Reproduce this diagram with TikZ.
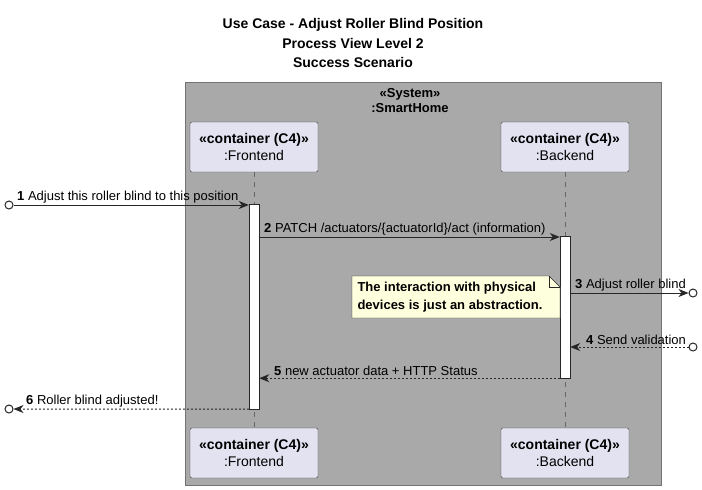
\documentclass[tikz,border=0pt]{standalone}
\usepackage{fontspec, xcolor}
\setmainfont{Liberation Sans}
\usetikzlibrary{arrows.meta, calc}

\definecolor{sysgray}{HTML}{A9A9A9}
\definecolor{partfill}{HTML}{E2E2F0}
\definecolor{notefill}{HTML}{FEFFDD}

\begin{document}
\begin{tikzpicture}[x=1pt, y=-1pt,
    part/.style={draw=black!75, fill=partfill, rounded corners=2pt, minimum width=128, minimum height=50, align=center, inner sep=2pt, font=\fontsize{14}{17}\selectfont},
    lifeline/.style={draw=black!60, dash pattern=on 5pt off 5pt},
    actbar/.style={draw=black!85, fill=white, minimum width=10, inner sep=0pt},
    msg/.style={draw=black!85, line width=1pt, -{Stealth[length=10pt, width=8pt, inset=3pt]}},
    reply/.style={msg, dash pattern=on 2pt off 2pt},
    endpt/.style={circle, draw=black!85, fill=white, minimum size=8, inner sep=0pt, line width=1pt},
    lbl/.style={anchor=south west, inner sep=1pt, font=\fontsize{13}{15}\selectfont}]
    \useasboundingbox (0,0) rectangle (702,490);
    % title
    \node[align=center, font=\bfseries\fontsize{14}{19.5}\selectfont] (title) at (353,43) {Use Case - Adjust Roller Blind Position\\Process View Level 2\\Success Scenario};
    % system box
    \draw [draw=black!55, fill=sysgray] (185,82) rectangle (661,485);
    \node[align=center, font=\fontsize{13}{15}\selectfont] (sys) at (410,101) {\textbf{«System»}\\\textbf{:SmartHome}};
    % participants
    \node[part] (fetop) at (254,147) {\textbf{«container (C4)»}\\:Frontend};
    \node[part] (betop) at (565,147) {\textbf{«container (C4)»}\\:Backend};
    \node[part] (febot) at (254,453) {\textbf{«container (C4)»}\\:Frontend};
    \node[part] (bebot) at (565,453) {\textbf{«container (C4)»}\\:Backend};
    \draw [lifeline] (fetop) -- (febot);
    \draw [lifeline] (betop) -- (bebot);
    % activations
    \node[actbar, minimum height=205] (feact) at (254,306.5) {};
    \node[actbar, minimum height=142] (beact) at (565,307) {};
    % note
    \draw [draw=black!85, fill=notefill] (352,276) -- (549,276) -- (560,287) -- (560,318) -- (352,318) -- cycle;
    \draw [draw=black!85] (549,276) -- (549,287) -- (560,287);
    \node[align=left, font=\bfseries\fontsize{13}{18}\selectfont] (note) at (450,297) {The interaction with physical\\devices is just an abstraction.};
    % messages
    \node[endpt] (in1) at (9,205) {};
    \draw [msg] (in1) -- (feact.west |- in1);
    \node[lbl] at (16,204) {\textbf{1} Adjust this roller blind to this position};
    \coordinate (m2) at (0,237);
    \draw [msg] (feact.east |- m2) -- (beact.west |- m2);
    \node[lbl] at (263,236) {\textbf{2} PATCH /actuators/\{actuatorId\}/act (information)};
    \node[endpt] (out3) at (693,293) {};
    \draw [msg] (beact.east |- out3) -- (out3);
    \node[lbl] at (574,292) {\textbf{3} Adjust roller blind};
    \node[endpt] (in4) at (693,347) {};
    \draw [reply] (in4) -- (beact.east |- in4);
    \node[lbl] at (585,346) {\textbf{4} Send validation};
    \draw [reply] (beact.south west) -- (feact.east |- beact.south);
    \node[lbl] at (273,377) {\textbf{5} new actuator data + HTTP Status};
    \node[endpt] (out6) at (9,409) {};
    \draw [reply] (feact.south west) -- (out6);
    \node[lbl] at (25,408) {\textbf{6} Roller blind adjusted!};
\end{tikzpicture}
\end{document}
